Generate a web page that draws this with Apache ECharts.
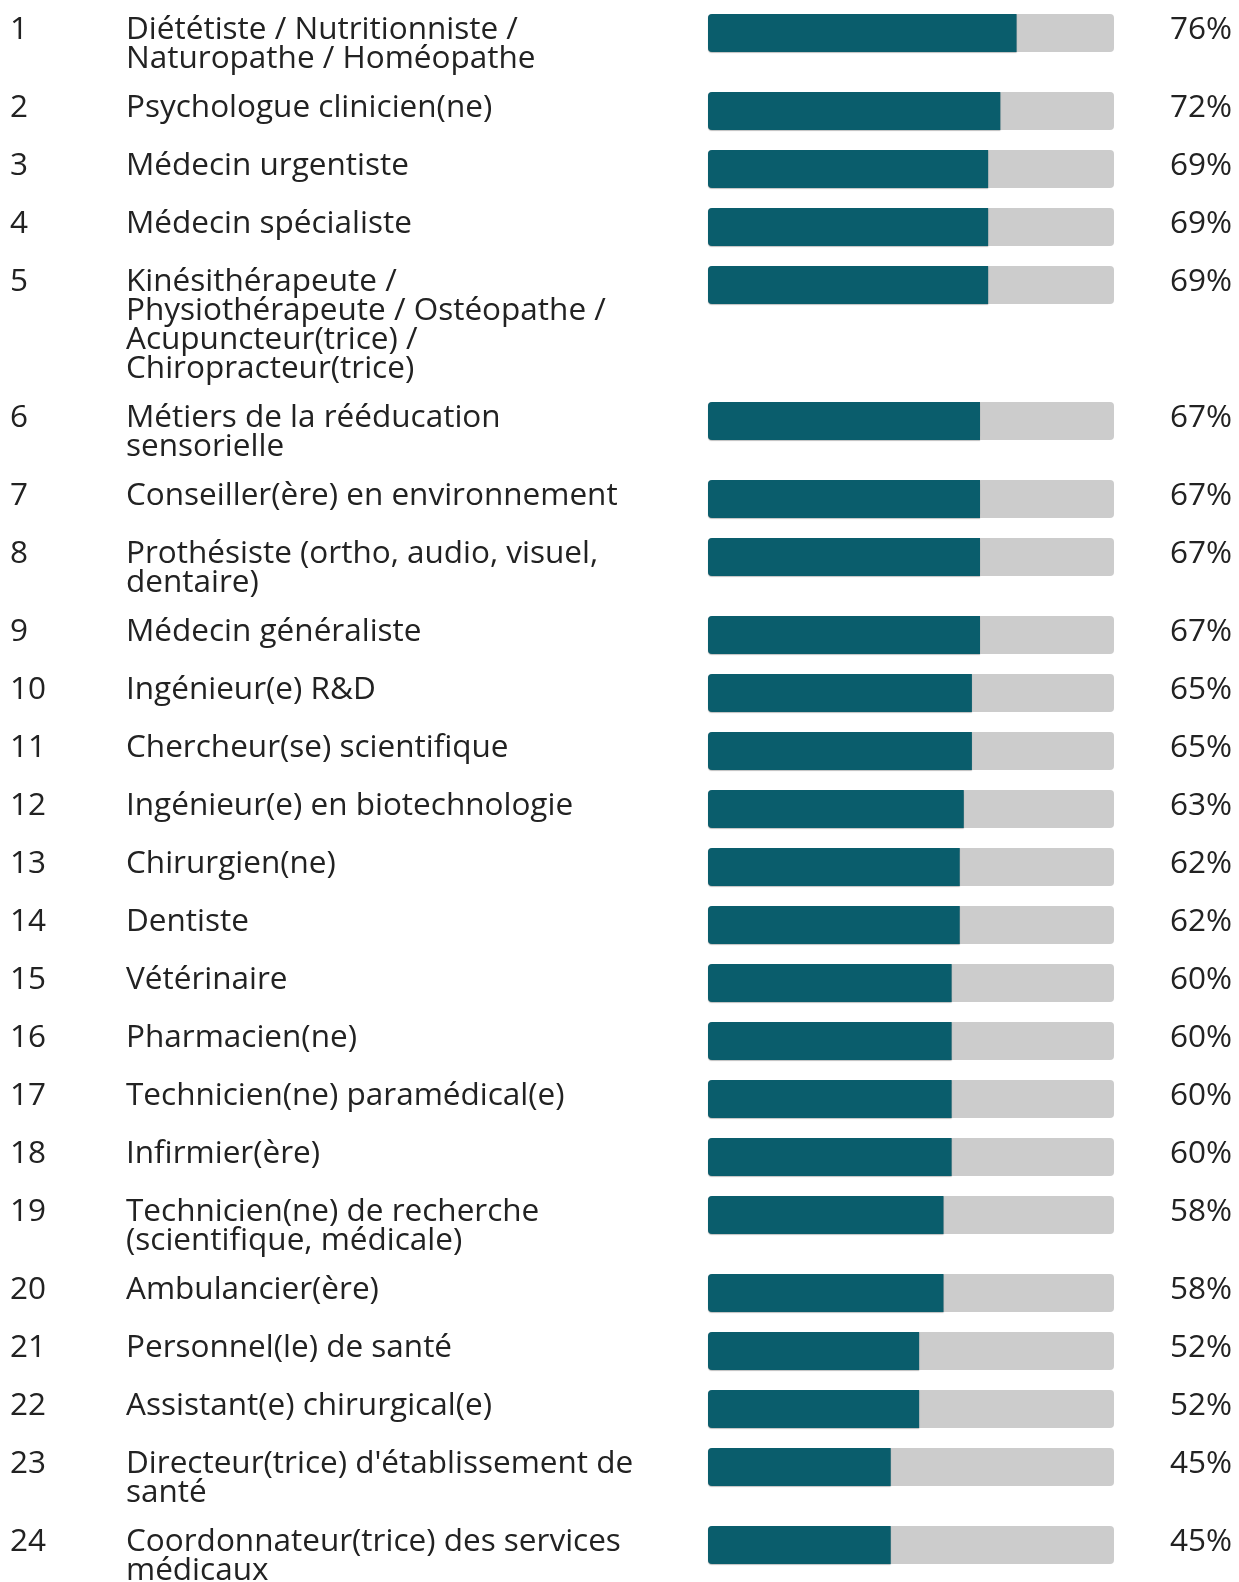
<!DOCTYPE html>
<html>
<head>
<meta charset="utf-8">
<script src="https://cdn.jsdelivr.net/npm/echarts@6/dist/echarts.min.js"></script>
<style>
  html, body { margin: 0; padding: 0; background: #ffffff; }
  #chart { width: 1239px; height: 1582px; }
</style>
</head>
<body>
<div id="chart"></div>
<script>
// Professions, in ranking order (line breaks follow the wrapped labels)
const professions = [
  'Diététiste / Nutritionniste /\nNaturopathe / Homéopathe',
  'Psychologue clinicien(ne)',
  'Médecin urgentiste',
  'Médecin spécialiste',
  'Kinésithérapeute /\nPhysiothérapeute / Ostéopathe /\nAcupuncteur(trice) /\nChiropracteur(trice)',
  'Métiers de la rééducation\nsensorielle',
  'Conseiller(ère) en environnement',
  'Prothésiste (ortho, audio, visuel,\ndentaire)',
  'Médecin généraliste',
  'Ingénieur(e) R&D',
  'Chercheur(se) scientifique',
  'Ingénieur(e) en biotechnologie',
  'Chirurgien(ne)',
  'Dentiste',
  'Vétérinaire',
  'Pharmacien(ne)',
  'Technicien(ne) paramédical(e)',
  'Infirmier(ère)',
  'Technicien(ne) de recherche\n(scientifique, médicale)',
  'Ambulancier(ère)',
  'Personnel(le) de santé',
  'Assistant(e) chirurgical(e)',
  "Directeur(trice) d'établissement de\nsanté",
  'Coordonnateur(trice) des services\nmédicaux'
];

// Share of respondents, in percent
const shares = [76, 72, 69, 69, 69, 67, 67, 67, 67, 65, 65, 63, 62, 62, 60, 60, 60, 60, 58, 58, 52, 52, 45, 45];

// Ranks shown in the first column
const ranks = professions.map((_, i) => String(i + 1));

// Layout
const FONT = "'Open Sans', 'Noto Sans', sans-serif";
const FONT_SIZE = 31.5;
const LINE_H = 29;
const BAR_H = 38;
const ROW_GAP = 20;
const BAR_LEFT = 708;
const BAR_RIGHT = 125;       // distance from the right edge of the canvas
const PCT_MARGIN = 118;      // from the bar end to the right edge of the percent label
const PCT_LINE_H = 6;        // bottom-anchored at the bar middle: lifts the percent to the name's first line
const NAME_DROP = 2;         // name block offset below the bar top
const TEXT_LEFT = 10;
const NAME_INDENT = 116;
const TEXT_COLOR = '#222222';
const TEAL = '#0a5d6c';
const TRACK = '#cccccc';

const grids = [], xAxes = [], yAxes = [], series = [];
let rowTop = 14;

professions.forEach((name, i) => {
  const lines = name.split('\n');
  grids.push({
    left: BAR_LEFT, right: BAR_RIGHT, top: rowTop, height: BAR_H,
    containLabel: false, outerBoundsMode: 'none'
  });
  xAxes.push({ gridIndex: i, type: 'value', min: 0, max: 100, show: false });
  yAxes.push({
    gridIndex: i,
    type: 'category',
    position: 'right',
    data: [name],
    axisLine: { show: false },
    axisTick: { show: false },
    splitLine: { show: false },
    axisLabel: {
      formatter: () => shares[i] + '%',
      align: 'right',
      verticalAlign: 'bottom',
      margin: PCT_MARGIN,
      fontFamily: FONT,
      fontSize: FONT_SIZE,
      lineHeight: PCT_LINE_H,
      color: TEXT_COLOR
    }
  });
  // rank + name, aligned to the top of the bar and starting at the page's left edge
  const rich = lines.map((ln, k) => '{r|' + (k === 0 ? ranks[i] : ' ') + '}{n|' + ln + '}').join('\n');
  series.push({
    type: 'bar',
    xAxisIndex: i,
    yAxisIndex: i,
    data: [shares[i]],
    barWidth: '100%',
    silent: true,
    animation: false,
    showBackground: true,
    backgroundStyle: { color: TRACK, borderRadius: 4 },
    itemStyle: {
      color: TEAL,
      borderRadius: [4, 0, 0, 4],
      shadowColor: 'rgba(0,0,0,0.25)',
      shadowBlur: 1,
      shadowOffsetY: 1
    },
    label: {
      show: true,
      position: [TEXT_LEFT - BAR_LEFT, NAME_DROP],
      align: 'left',
      verticalAlign: 'top',
      formatter: () => rich,
      fontFamily: FONT,
      fontSize: FONT_SIZE,
      lineHeight: LINE_H,
      color: TEXT_COLOR,
      textBorderWidth: 0,
      rich: {
        r: { width: NAME_INDENT, fontFamily: FONT, fontSize: FONT_SIZE, lineHeight: LINE_H, color: TEXT_COLOR },
        n: { fontFamily: FONT, fontSize: FONT_SIZE, lineHeight: LINE_H, color: TEXT_COLOR }
      }
    }
  });
  rowTop += Math.max(BAR_H, lines.length * LINE_H) + ROW_GAP;
});

const chart = echarts.init(document.getElementById('chart'), null, { renderer: 'canvas' });
chart.setOption({
  animation: false,
  backgroundColor: '#ffffff',
  grid: grids,
  xAxis: xAxes,
  yAxis: yAxes,
  series: series
});
</script>
</body>
</html>
